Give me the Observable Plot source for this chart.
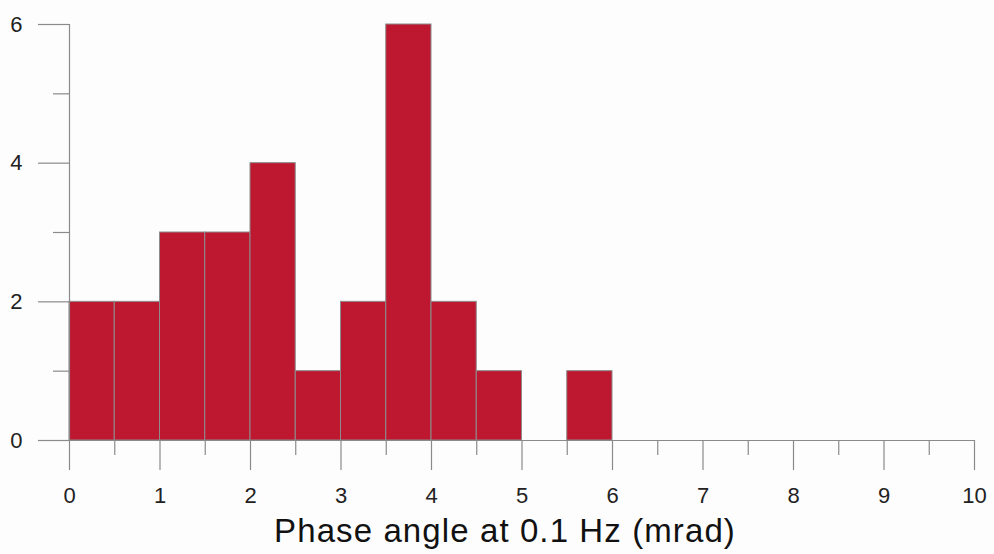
<!DOCTYPE html>
<html>
<head>
<meta charset="utf-8">
<script src="https://cdn.jsdelivr.net/npm/d3@7"></script>
<script src="https://cdn.jsdelivr.net/npm/@observablehq/plot@0.6"></script>
<style>
  html, body { margin: 0; padding: 0; background: #fdfdfd; }
  #chart svg { display: block; }
</style>
</head>
<body>
<div id="chart"></div>
<script>
const binStarts = [0, 0.5, 1, 1.5, 2, 2.5, 3, 3.5, 4, 4.5, 5, 5.5];
const binWidth = 0.5;
const counts = [2, 2, 3, 3, 4, 1, 2, 6, 2, 1, 0, 1];
const xMajorTicks = [0, 1, 2, 3, 4, 5, 6, 7, 8, 9, 10];
const xMinorTicks = [0.5, 1.5, 2.5, 3.5, 4.5, 5.5, 6.5, 7.5, 8.5, 9.5];
const yMajorTicks = [0, 2, 4, 6];
const yMinorTicks = [1, 3, 5];
const xTitle = "Phase angle at 0.1 Hz (mrad)";

const bins = binStarts.map((s, i) => ({x1: s, x2: s + binWidth, count: counts[i]})).filter(d => d.count > 0);

const font = "Liberation Sans, Arial, sans-serif";
const axisColor = "#8a8a8a";
const fmt = d3.format("d");

const chart = Plot.plot({
  width: 994,
  height: 554,
  marginLeft: 69,
  marginRight: 20,
  marginTop: 24,
  marginBottom: 114,
  style: {fontFamily: font, background: "#fdfdfd", color: "#222", fontSize: "22px"},
  x: {domain: [0, 10]},
  y: {domain: [0, 6]},
  marks: [
    Plot.rect(bins, {x1: "x1", x2: "x2", y1: 0, y2: "count", fill: "#be1730", stroke: "#8c8c8c", strokeWidth: 1}),
    Plot.ruleY([0], {x1: 0, x2: 10, stroke: axisColor, strokeWidth: 1.2}),
    Plot.ruleX([0], {y1: 0, y2: 6, stroke: axisColor, strokeWidth: 1.2}),
    Plot.axisX({ticks: xMajorTicks, tickSize: 30, tickPadding: 17, tickFormat: fmt, label: null, stroke: axisColor, strokeOpacity: 1, strokeWidth: 1.2, fill: "#222"}),
    Plot.axisX({ticks: xMinorTicks, tickSize: 15, tickFormat: () => "", label: null, stroke: axisColor, strokeOpacity: 1, strokeWidth: 1.2}),
    Plot.axisY({ticks: yMajorTicks, tickSize: 31, tickPadding: 16, tickFormat: fmt, label: null, stroke: axisColor, strokeOpacity: 1, strokeWidth: 1.2, fill: "#222"}),
    Plot.axisY({ticks: yMinorTicks, tickSize: 16, tickFormat: () => "", label: null, stroke: axisColor, strokeOpacity: 1, strokeWidth: 1.2}),
    Plot.text([xTitle], {frameAnchor: "bottom", dx: -17, dy: 91, fontSize: 33, fill: "#111", lineAnchor: "middle"})
  ]
});
chart.querySelectorAll("text").forEach(t => {
  if (t.textContent === xTitle) t.setAttribute("letter-spacing", "1.1");
});
document.getElementById("chart").appendChild(chart);
</script>
</body>
</html>
